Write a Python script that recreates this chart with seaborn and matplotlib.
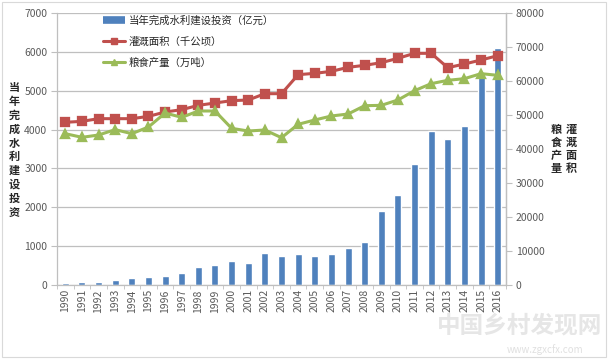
import numpy as np
import pandas as pd
import matplotlib
matplotlib.use('Agg')
import matplotlib.pyplot as plt
from matplotlib.lines import Line2D
from matplotlib.patches import Patch, Rectangle
import seaborn as sns

# data
years = [str(y) for y in range(1990, 2017)]
investment = [45, 70, 88, 130, 172, 205, 225, 310, 466, 517, 612, 569, 828, 750, 793,
              750, 793, 948, 1095, 1897, 2319, 3103, 3964, 3758, 4083, 5452, 6100]
irrigation = [47850, 48140, 48920, 48920, 48920, 49600, 50880, 51570, 52840, 53530,
              54220, 54410, 56270, 56270, 61860, 62250, 62840, 64020, 64610, 65390,
              66670, 68140, 68140, 63920, 65000, 66180, 67450]
grain = [44510, 43430, 44120, 45690, 44510, 46470, 50590, 49310, 51180, 51180,
         46080, 45290, 45590, 43330, 47260, 48530, 49710, 50290, 52740, 52840,
         54410, 57160, 59220, 60200, 60690, 62160, 61670]

label_bar = '当年完成水利建设投资（亿元）'
label_irr = '灌溉面积（千公顷）'
label_grain = '粮食产量（万吨）'

df = pd.DataFrame({'year': years, 'investment': investment,
                   'irrigation': irrigation, 'grain': grain})

sns.set_style('white')
plt.rcParams['font.family'] = ['Noto Sans CJK SC', 'DejaVu Sans']

blue = '#4F81BD'
red = '#C0504D'
green = '#9BBB59'
grid_c = '#BFBFBF'
tick_c = '#595959'

fig = plt.figure(figsize=(6.11, 3.63), dpi=100)
ax = fig.add_axes([57 / 611, 1 - 285 / 363, (506 - 57) / 611, (285 - 13) / 363])

sns.barplot(data=df, x='year', y='investment', color=blue, width=0.42,
            saturation=1, ax=ax, zorder=2)
ax.set_ylim(0, 7000)
ax.set_yticks(range(0, 7001, 1000))
ax.yaxis.grid(True, color=grid_c, linewidth=0.9, zorder=0)
ax.set_axisbelow(True)
ax.set_xlabel('')
ax.set_ylabel('')
ax.tick_params(axis='y', labelsize=7.5, labelcolor=tick_c, length=4, color=grid_c,
               direction='out', left=True, pad=3)
ax.tick_params(axis='x', labelsize=7.5, labelcolor=tick_c, rotation=90, length=0, pad=3)
ax.set_xticks(np.arange(-0.5, len(years), 1), minor=True)
ax.tick_params(axis='x', which='minor', length=3, color=grid_c, direction='out', bottom=True)
for s in ['top']:
    ax.spines[s].set_visible(False)
for s in ['left', 'bottom', 'right']:
    ax.spines[s].set_color(grid_c)
    ax.spines[s].set_linewidth(0.9)

ax2 = ax.twinx()
sns.pointplot(data=df, x='year', y='irrigation', color=red, marker='s', markersize=5.5,
              linewidth=2.2, ax=ax2)
sns.pointplot(data=df, x='year', y='grain', color=green, marker='^', markersize=5.5,
              linewidth=2.2, ax=ax2)
ax2.set_ylim(0, 80000)
ax2.set_yticks(range(0, 80001, 10000))
ax2.set_xlim(-0.5, len(years) - 0.5)
ax2.set_xlabel('')
ax2.set_ylabel('')
ax2.tick_params(axis='y', labelsize=7.5, labelcolor=tick_c, length=4, color=grid_c,
                direction='out', right=True, pad=3)
for s in ['top', 'left', 'bottom']:
    ax2.spines[s].set_visible(False)
ax2.spines['right'].set_color(grid_c)
ax2.spines['right'].set_linewidth(0.9)

handles = [
    Line2D([], [], color=blue, linewidth=5.5, solid_capstyle='butt'),
    Line2D([], [], color=red, linewidth=2.2, marker='s', markersize=4),
    Line2D([], [], color=green, linewidth=2.2, marker='^', markersize=4),
]
ax2.legend(handles, [label_bar, label_irr, label_grain], loc='upper left',
           bbox_to_anchor=(103 / 611, 1 - 15 / 363), bbox_transform=fig.transFigure,
           frameon=False, fontsize=7.5, handlelength=2.1, handletextpad=0.4,
           labelspacing=1.05, borderpad=0, borderaxespad=0)

# stacked vertical axis titles
fig.text(14 / 611, 1 - 150 / 363, '\n'.join('当年完成水利建设投资'), ha='center', va='center',
         fontsize=8, fontweight='bold', linespacing=1.08)
fig.text(571 / 611, 1 - 149 / 363, '\n'.join('灌溉面积'), ha='center', va='center',
         fontsize=8, fontweight='bold', linespacing=1.0)
fig.text(556 / 611, 1 - 149 / 363, '\n'.join('粮食产量'), ha='center', va='center',
         fontsize=8, fontweight='bold', linespacing=1.0)

# chart frame and watermark
fig.patches.append(Rectangle((2 / 611, 6 / 363), 604 / 611, 355 / 363, transform=fig.transFigure,
                             fill=False, edgecolor='#D9D9D9', linewidth=0.8))
fig.text(520 / 611, 1 - 325 / 363, '中国乡村发现网', ha='center', va='center',
         fontsize=17, color='#E6E6E6', fontweight='bold', zorder=0)
fig.text(545 / 611, 1 - 350 / 363, 'www.zgxcfx.com', ha='center', va='center',
         fontsize=7, color='#E0E0E0', zorder=0)

fig.savefig('out.png', dpi=100)
